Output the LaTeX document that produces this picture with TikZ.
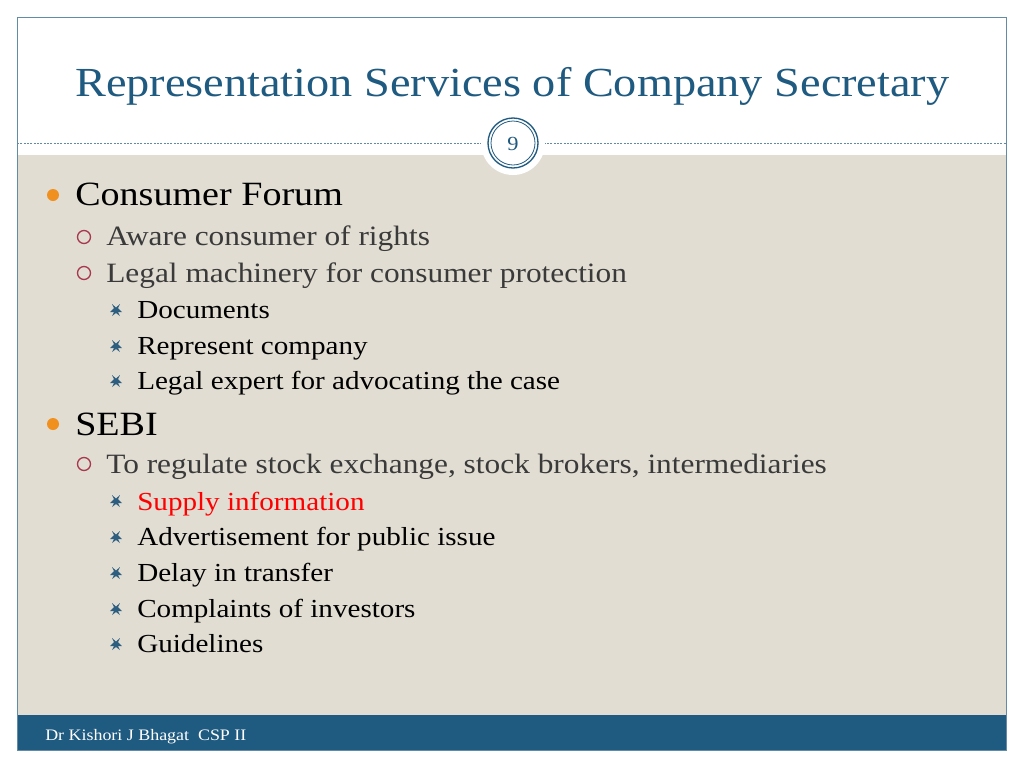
\documentclass[tikz,border=0pt]{standalone}
\usepackage{fontspec}
\setmainfont[FakeStretch=1.12]{Liberation Serif}
\definecolor{tblue}{HTML}{1F5A80}
\definecolor{beige}{HTML}{E1DDD2}
\definecolor{borange}{HTML}{F0901E}
\definecolor{bred}{HTML}{A8384F}
\definecolor{sblue}{HTML}{2D5E80}
\definecolor{tgray}{HTML}{3A3A3A}
\begin{document}
\begin{tikzpicture}[x=0.75pt,y=-0.75pt,
  lone/.style={anchor=base west,inner sep=0,font=\fontsize{25.5}{28}\selectfont,text=black},
  ltwo/.style={anchor=base west,inner sep=0,font=\fontsize{21}{24}\selectfont,text=tgray},
  lthree/.style={anchor=base west,inner sep=0,font=\fontsize{19.5}{22}\selectfont,text=black}]
\useasboundingbox (0,0) rectangle (1024,768);
\fill[white] (0,0) rectangle (1024,768);
\fill[beige] (17,155) rectangle (1006,715);
\fill[tblue] (17,715) rectangle (1006,750);
\draw[tblue!70,line width=0.6pt] (17,17) rectangle (1006,750);
\draw[tblue!70,dashed,dash pattern=on 1.5pt off 1pt,line width=0.6pt] (17,143) -- (1006,143);
\fill[white] (513,143) circle (32);
\draw[tblue,line width=1pt] (513,143) circle (25);
\draw[tblue,line width=0.6pt] (513,143) circle (22);
\node[font=\fontsize{15}{17}\selectfont,text=tblue] (num) at (513,144) {9};
\node[anchor=base west,inner sep=0,font=\fontsize{31}{34}\selectfont,text=tblue] (title) at (75,96) {Representation Services of Company Secretary};
\node[anchor=base west,inner sep=0,font=\fontsize{12}{14}\selectfont,text=white] (foot) at (45,740) {Dr Kishori J Bhagat \ CSP II};
\foreach \y in {195,424} \fill[borange] (53,\y) circle (6);
\foreach \y in {237,273,464} \draw[bred,line width=1pt] (84,\y) circle (6.5);
\foreach \y in {310,346,381,501,537,573,609,644}
  \fill[sblue] (112,\y-6) -- (116,\y-2.5) -- (120,\y-6) -- (118,\y-2)-- (122,\y+2) -- (118,\y+2) -- (120,\y+6) -- (116,\y+3) -- (112,\y+6) -- (114,\y+2) -- (110,\y+2)--(114,\y-2) -- cycle;
\node[lone] (a) at (75,205) {Consumer Forum};
\node[ltwo] (b) at (106,245) {Aware consumer of rights};
\node[ltwo] (c) at (106,282) {Legal machinery for consumer protection};
\node[lthree] (d) at (137,318) {Documents};
\node[lthree] (e) at (137,354) {Represent company};
\node[lthree] (f) at (137,389) {Legal expert for advocating the case};
\node[lone] (g) at (75,435) {SEBI};
\node[ltwo] (h) at (106,473) {To regulate stock exchange, stock brokers, intermediaries};
\node[lthree,text=red] (i) at (137,510) {Supply information};
\node[lthree] (j) at (137,545) {Advertisement for public issue};
\node[lthree] (k) at (137,581) {Delay in transfer};
\node[lthree] (l) at (137,617) {Complaints of investors};
\node[lthree] (m) at (137,652) {Guidelines};
\end{tikzpicture}
\end{document}
